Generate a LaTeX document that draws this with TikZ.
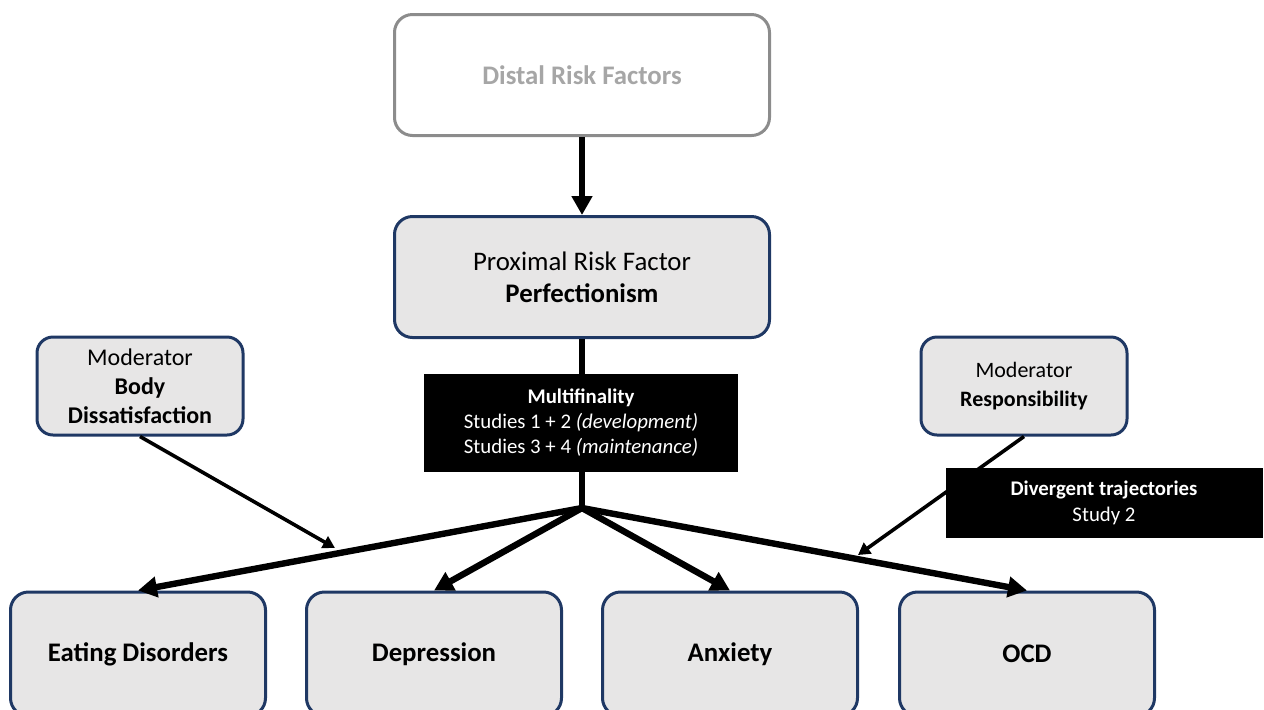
\documentclass[tikz,border=0pt]{standalone}
\usepackage{fontspec}
\setmainfont{Carlito}
\usepackage{tikz}
\usetikzlibrary{arrows.meta,positioning,calc}

\definecolor{boxfill}{HTML}{E7E6E6}
\definecolor{boxline}{HTML}{1F3864}
\definecolor{distalline}{HTML}{8C8C8C}
\definecolor{distaltext}{HTML}{A6A6A6}

\begin{document}
\begin{tikzpicture}[x=0.5pt, y=-0.5pt,
		every node/.style={align=center, inner sep=2pt},
		riskbox/.style={draw=boxline, fill=boxfill, line width=1.5pt, rounded corners=9pt,
			minimum width=187.5pt, minimum height=60.5pt, font=\fontsize{13.4}{16}\selectfont},
		outcome/.style={riskbox, minimum width=127.5pt, minimum height=62pt, font=\fontsize{13.4}{16}\selectfont\bfseries},
		modbox/.style={riskbox, rounded corners=8pt, minimum width=103pt, minimum height=49pt},
		studybox/.style={fill=black, text=white, minimum width=157pt, minimum height=49pt, font=\fontsize{10.4}{12.5}\selectfont},
		thick path/.style={line width=3.2pt, -{Triangle[length=9.5pt, width=10pt]}},
		thin path/.style={line width=1.8pt, -{Triangle[length=6pt, width=6.5pt]}}]
		\useasboundingbox (0,0) rectangle (1264,709);
		\clip (0,0) rectangle (1264,709);

		\node[riskbox, draw=distalline, fill=white, text=distaltext, font=\fontsize{13.4}{16}\selectfont\bfseries] (distal) at (582,75) {Distal Risk Factors};
		\node[riskbox] (proximal) at (582,277) {Proximal Risk Factor\\\textbf{Perfectionism}};

		\node[outcome] (eating) at (138,654) {Eating Disorders};
		\node[outcome] (depr) at (434,654) {Depression};
		\node[outcome] (anx) at (730,654) {Anxiety};
		\node[outcome] (ocd) at (1027,654) {OCD};

		\node[modbox, font=\fontsize{12}{14.5}\selectfont] (bodydis) at (140,386) {Moderator\\\textbf{Body}\\\textbf{Dissatisfaction}};
		\node[modbox, font=\fontsize{11}{14.5}\selectfont] (respons) at (1024,386) {Moderator\\\textbf{Responsibility}};

		\coordinate (split) at (582,508);
		\coordinate (edcue) at (335,548);
		\coordinate (ocdcue) at (858,555);

		\draw[thick path] (distal) -- (proximal);
		\draw[line width=3.2pt] (proximal) -- (split);
		\draw[thick path] (split) -- (eating.north);
		\draw[thick path] (split) -- (depr.north);
		\draw[thick path] (split) -- (anx.north);
		\draw[thick path] (split) -- (ocd.north);

		\draw[thin path] (bodydis.south) -- (edcue);
		\draw[thin path] (respons.south) -- (ocdcue);

		% labels over the paths
		\node[studybox] (multi) at (581,423) {\textbf{Multifinality}\\Studies 1 + 2 \textit{(development)}\\Studies 3 + 4 \textit{(maintenance)}};
		\node[studybox, minimum width=158.5pt, minimum height=35pt, font=\fontsize{10.4}{13}\selectfont] (diverg) at (1104,503) {\textbf{Divergent trajectories}\\Study 2};
	\end{tikzpicture}
\end{document}
